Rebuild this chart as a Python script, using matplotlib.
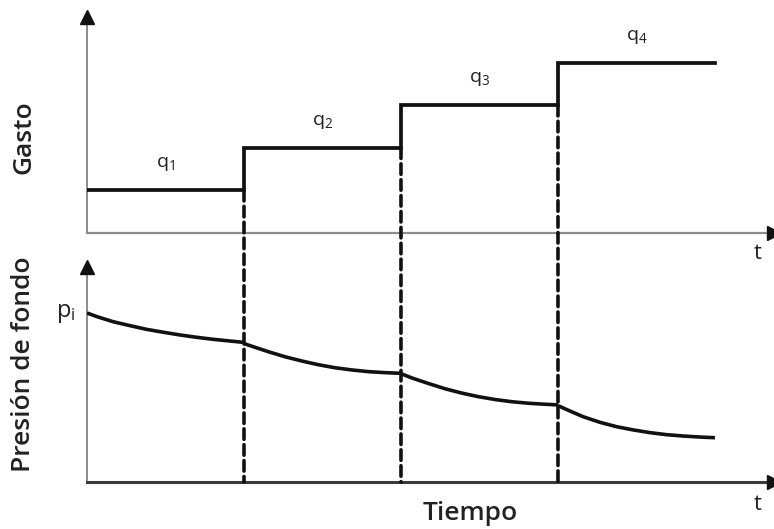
import matplotlib
matplotlib.use("Agg")
import matplotlib.pyplot as plt
from matplotlib.patches import ConnectionPatch

plt.rcParams['font.family'] = ['Open Sans', 'DejaVu Sans']
plt.rcParams['mathtext.default'] = 'regular'

# Rate schedule: step start times and rate levels
step_times = [0, 1, 2, 3, 4]
rates = [1, 2, 3, 4]
rate_labels = ["q_1", "q_2", "q_3", "q_4"]

# Bottom-hole pressure response, one list per rate period
p_time_1 = [0.0, 0.064, 0.168, 0.274, 0.380, 0.486, 0.592, 0.699, 0.805, 0.911, 1.0]
p_val_1 = [100.0, 97.8, 94.8, 92.5, 90.3, 88.6, 87.0, 85.6, 84.4, 83.4, 82.6]
p_time_2 = [1.0, 1.07, 1.155, 1.261, 1.368, 1.473, 1.58, 1.686, 1.792, 1.898, 2.0]
p_val_2 = [81.9, 79.7, 77.1, 74.1, 71.6, 69.4, 67.6, 66.3, 65.3, 64.7, 64.3]
p_time_3 = [2.0, 2.068, 2.174, 2.28, 2.387, 2.492, 2.599, 2.705, 2.811, 2.917, 3.0]
p_val_3 = [64.1, 61.6, 58.3, 55.2, 52.6, 50.5, 48.8, 47.5, 46.6, 46.0, 45.6]
p_time_4 = [3.0, 3.076, 3.161, 3.268, 3.374, 3.48, 3.586, 3.692, 3.798, 3.904, 4.0]
p_val_4 = [45.2, 42.0, 38.6, 35.3, 32.7, 30.8, 29.2, 28.0, 27.2, 26.6, 26.2]
p_initial = 100.0

W, H = 774, 529
fig = plt.figure(figsize=(W / 100, H / 100), dpi=100)

def px_axes(left, top, right, bottom):
    return fig.add_axes([left / W, (H - bottom) / H, (right - left) / W, (bottom - top) / H])

ax_q = px_axes(87, 17, 774, 233)
ax_p = px_axes(87, 267, 774, 482)

xmax = 4.376
ax_q.set_xlim(0, xmax)
ax_q.set_ylim(0, 5.08)
ax_p.set_xlim(0, xmax)
ax_p.set_ylim(0, 127.2)

ink = "#111111"
txt = "#222222"

for ax, xcol, xlw in ((ax_q, "#8c8c8c", 1.6), (ax_p, "#3a3a3a", 2.2)):
    for s in ("top", "right"):
        ax.spines[s].set_visible(False)
    ax.spines["left"].set_color("#8c8c8c")
    ax.spines["left"].set_linewidth(1.4)
    ax.spines["bottom"].set_color(xcol)
    ax.spines["bottom"].set_linewidth(xlw)
    ax.set_xticks([])
    ax.set_yticks([])
    ax.patch.set_visible(False)
    # arrow heads on both axes
    ax.plot([0], [1], marker="^", markersize=10, color=ink, transform=ax.transAxes,
            clip_on=False, zorder=5)
    ax.plot([1], [0], marker=">", markersize=10, color=ink, transform=ax.transAxes,
            clip_on=False, zorder=5)

# Rate steps
ax_q.step(step_times, rates + [rates[-1]], where="post", color=ink, lw=2.7,
          solid_joinstyle="miter", zorder=3)
for i, lab in enumerate(rate_labels):
    xm = (step_times[i] + step_times[i + 1]) / 2
    ax_q.text(xm, rates[i] + 0.62, f"${lab}$", ha="center", va="center",
              fontsize=14, color=txt)

# Pressure curve
for tt, pp in ((p_time_1, p_val_1), (p_time_2, p_val_2),
               (p_time_3, p_val_3), (p_time_4, p_val_4)):
    ax_p.plot(tt, pp, color=ink, lw=2.6, solid_capstyle="butt",
              solid_joinstyle="round", zorder=3)

# Dashed markers at each rate change, running through both panels
for i in range(1, len(rates)):
    con = ConnectionPatch(xyA=(step_times[i], rates[i - 1]), coordsA=ax_q.transData,
                          xyB=(step_times[i], 0), coordsB=ax_p.transData,
                          color=ink, lw=2.6, linestyle=(0, (2.9, 1.5)), zorder=2)
    fig.add_artist(con)

ax_p.text(-0.07, p_initial, "$p_i$", ha="right", va="center", fontsize=17, color=txt)

fig.text(24 / W, 1 - 137 / H, "Gasto", rotation=90, ha="center", va="center",
         fontsize=19, fontweight="semibold", color=txt)
fig.text(24 / W, 1 - 364 / H, "Presión de fondo", rotation=90, ha="center", va="center",
         fontsize=19, fontweight="semibold", color=txt)
fig.text(470 / W, 1 - 513 / H, "Tiempo", ha="center", va="center",
         fontsize=19, fontweight="semibold", color=txt)
fig.text(758 / W, 1 - 254 / H, "t", ha="center", va="center", fontsize=16, color=txt)
fig.text(758 / W, 1 - 504 / H, "t", ha="center", va="center", fontsize=16, color=txt)

fig.savefig("out.png", dpi=100, facecolor="white")
